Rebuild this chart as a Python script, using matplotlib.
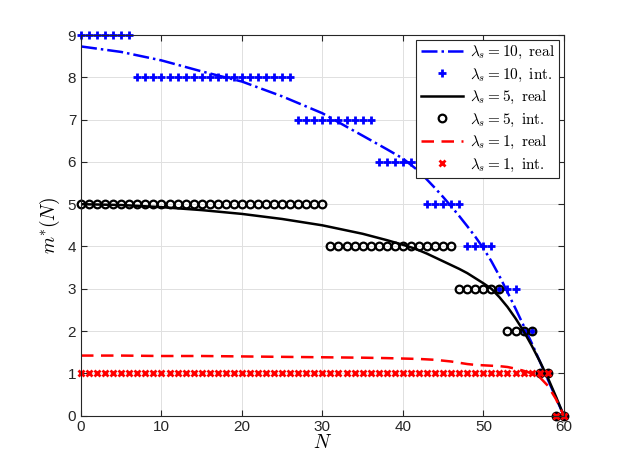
import matplotlib
matplotlib.use("Agg")
import matplotlib.pyplot as plt

plt.rcParams['mathtext.fontset'] = 'cm'
plt.rcParams['font.family'] = ['Liberation Sans', 'DejaVu Sans']

# ---- continuous ("real") solutions ----
N_real = [0, 5, 10, 15, 20, 25, 30, 35, 38, 40, 41, 42, 43, 44, 45, 46, 47, 48, 49, 50,
          51, 52, 53, 54, 55, 56, 57, 58, 59, 60]
m10_real = [8.73, 8.60, 8.40, 8.14, 7.90, 7.55, 7.15, 6.62, 6.30, 6.08, 5.93, 5.78, 5.58, 5.38, 5.17,
            4.95, 4.72, 4.48, 4.23, 3.96, 3.65, 3.30, 2.92, 2.53, 2.13, 1.72, 1.29, 0.86, 0.43, 0.0]
m5_real = [5.00, 4.98, 4.93, 4.86, 4.77, 4.65, 4.50, 4.30, 4.15, 4.04, 3.98, 3.91, 3.83, 3.74, 3.65,
           3.56, 3.47, 3.37, 3.25, 3.13, 3.00, 2.80, 2.57, 2.30, 2.00, 1.66, 1.29, 0.90, 0.46, 0.0]
m1_real = [1.42, 1.42, 1.41, 1.41, 1.40, 1.39, 1.38, 1.37, 1.36, 1.35, 1.345, 1.34, 1.33, 1.32, 1.30,
           1.28, 1.25, 1.22, 1.20, 1.19, 1.18, 1.17, 1.15, 1.11, 1.06, 1.00, 0.91, 0.71, 0.40, 0.0]

# ---- integer solutions: (value, first N, last N) runs ----
N_int = list(range(0, 61))
runs10 = [(9, 0, 6), (8, 7, 26), (7, 27, 36), (6, 37, 42), (5, 43, 47), (4, 48, 51),
          (3, 52, 54), (2, 55, 56), (1, 57, 58), (0, 59, 60)]
runs5 = [(5, 0, 30), (4, 31, 46), (3, 47, 52), (2, 53, 56), (1, 57, 58), (0, 59, 60)]
runs1 = [(1, 0, 58), (0, 59, 60)]

def expand(runs):
    out = []
    for v, a, b in runs:
        out += [v] * (b - a + 1)
    return out

m10_int = expand(runs10)
m5_int = expand(runs5)
m1_int = expand(runs1)

labels = [r'$\lambda_s = 10,\ \mathrm{real}$', r'$\lambda_s = 10,\ \mathrm{int.}$',
          r'$\lambda_s = 5,\ \mathrm{real}$', r'$\lambda_s = 5,\ \mathrm{int.}$',
          r'$\lambda_s = 1,\ \mathrm{real}$', r'$\lambda_s = 1,\ \mathrm{int.}$']

fig = plt.figure(figsize=(6.23, 4.67), dpi=100)
ax = fig.add_axes([0.13, 0.11, 0.775, 0.815])

ax.plot(N_real, m10_real, '-.', color='#0000ff', lw=1.8, label=labels[0])
ax.plot(N_int, m10_int, '+', color='#0000ff', ms=5.5, mew=2.0, ls='none', label=labels[1], clip_on=False)
ax.plot(N_real, m5_real, '-', color='black', lw=1.8, label=labels[2])
ax.plot(N_int, m5_int, 'o', mfc='none', mec='black', ms=5.5, mew=1.6, ls='none', label=labels[3], clip_on=False)
ax.plot(N_real, m1_real, '--', color='#ff0000', lw=1.8, dashes=(5, 3), label=labels[4])
ax.plot(N_int, m1_int, 'x', color='#ff0000', ms=4, mew=2.0, ls='none', label=labels[5], clip_on=False)

ax.set_xlim(0, 60)
ax.set_ylim(0, 9)
ax.set_xticks(range(0, 61, 10))
ax.set_yticks(range(0, 10))
ax.grid(True, color='#e0e0e0', lw=0.7)
ax.set_axisbelow(True)
for s in ax.spines.values():
    s.set_color('#262626')
    s.set_linewidth(0.8)
ax.tick_params(direction='in', top=True, right=True, length=4, labelsize=11,
               colors='#262626', width=0.8)

ax.set_xlabel(r'$N$', fontsize=14, labelpad=0)
ax.set_ylabel(r'$m^{*}(N)$', fontsize=14, labelpad=4)

leg = ax.legend(loc='upper right', fontsize=11, frameon=True, fancybox=False,
                edgecolor='#262626', framealpha=1, handlelength=2.8,
                labelspacing=0.35, borderpad=0.3, handletextpad=0.4,
                borderaxespad=0.3)
leg.get_frame().set_linewidth(0.8)
leg.set_zorder(10)

fig.savefig('out.png', dpi=100)
